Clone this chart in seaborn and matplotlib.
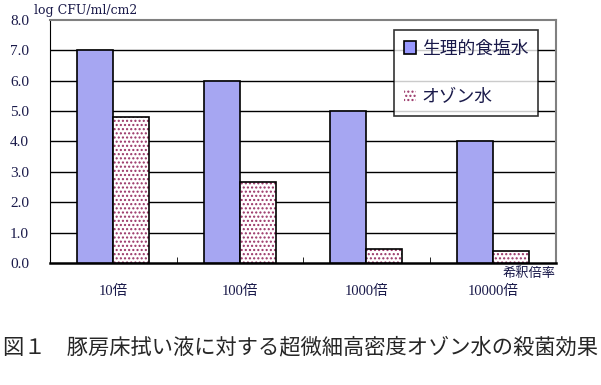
import matplotlib
matplotlib.use("Agg")
import matplotlib.pyplot as plt
import seaborn as sns
import pandas as pd
from matplotlib.patches import Patch, Rectangle

# data
categories = ["10倍", "100倍", "1000倍", "10000倍"]
series_names = ["生理的食塩水", "オゾン水"]
saline = [7.0, 6.0, 5.0, 4.0]
ozone = [4.8, 2.65, 0.45, 0.38]
y_ticks = [0, 1, 2, 3, 4, 5, 6, 7, 8]

df = pd.DataFrame({
    "dilution": categories * 2,
    "value": saline + ozone,
    "series": [series_names[0]] * 4 + [series_names[1]] * 4,
})

sns.set_style("white")
plt.rcParams["font.family"] = ["Liberation Serif", "Noto Sans CJK JP"]

blue = "#9999FF"
dot = "#993366"
txt = "#1a1a4a"

fig = plt.figure(figsize=(6.01, 3.85), dpi=100)
ax = fig.add_axes([0.0832, 0.317, 0.842, 0.631])

sns.barplot(data=df, x="dilution", y="value", hue="series", order=categories,
            hue_order=series_names, palette=[blue, "white"], width=0.57, gap=0,
            edgecolor="black", linewidth=1.2, legend=False, ax=ax, zorder=3)

# ozone bars: white with maroon dots, black outline drawn on top
bars = ax.patches
for p in bars[4:8]:
    p.set_edgecolor(dot)
    p.set_linewidth(0)
    p.set_hatch("....")
    ax.add_patch(Rectangle(p.get_xy(), p.get_width(), p.get_height(), fill=False,
                           edgecolor="black", linewidth=1.2, zorder=4))

ax.set_ylim(0, 8)
ax.set_xlim(-0.5, 3.5)
ax.set_yticks(y_ticks)
ax.set_yticklabels([f"{v:.1f}" for v in y_ticks], fontsize=11, color=txt)
for v in y_ticks[1:-1]:
    ax.axhline(v, color="black", linewidth=1, zorder=1)

ax.set_xticks(range(len(categories)))
ax.set_xticklabels(categories, fontsize=10.5, color=txt)
ax.set_xticks([0.5, 1.5, 2.5], minor=True)
ax.tick_params(axis="x", which="major", length=0, pad=16)
ax.tick_params(axis="x", which="minor", length=4, direction="in", bottom=True, color="black")
ax.tick_params(axis="y", length=0, pad=15)
ax.set_xlabel("")
ax.set_ylabel("")

for side in ["top", "right"]:
    ax.spines[side].set_color("#808080")
    ax.spines[side].set_linewidth(1.5)
ax.spines["left"].set_color("black")
ax.spines["bottom"].set_color("black")
ax.spines["bottom"].set_linewidth(1.8)

handles = [Patch(facecolor=blue, edgecolor="black", linewidth=1.2),
           Patch(facecolor="white", edgecolor=dot, hatch="....", linewidth=0)]
leg = ax.legend(handles, series_names, loc="upper left", bbox_to_anchor=(0.68, 0.96),
                frameon=True, fancybox=False, handlelength=0.7, handleheight=0.7,
                handletextpad=0.3, labelspacing=1.7, borderpad=0.55, borderaxespad=0,
                prop={"family": ["Noto Sans CJK JP"], "size": 12.8})
for t in leg.get_texts():
    t.set_color(txt)
leg.get_frame().set_edgecolor("black")
leg.get_frame().set_linewidth(1.2)
leg.set_zorder(5)

fig.text(34 / 601, 1 - 14 / 385, "log CFU/ml/cm2", fontsize=9, color=txt,
         va="baseline", family=["DejaVu Serif"])
fig.text(503 / 601, 1 - 277 / 385, "希釈倍率", fontsize=9.5, color=txt,
         va="baseline", family=["Noto Sans CJK JP"])
fig.text(0.5, 1 - 353 / 385, "図１　豚房床拭い液に対する超微細高密度オゾン水の殺菌効果",
         fontsize=15.3, ha="center", va="baseline", family=["Noto Sans CJK JP"])

fig.savefig("out.png", dpi=100)
